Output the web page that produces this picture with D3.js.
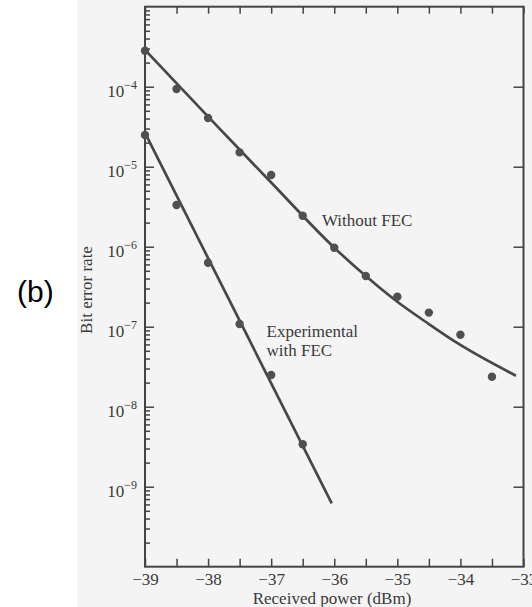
<!DOCTYPE html>
<html>
<head>
<meta charset="utf-8">
<script src="https://cdn.jsdelivr.net/npm/d3@7"></script>
<style>
  body { margin: 0; background: #ffffff; }
  svg { display: block; }
</style>
</head>
<body>
<div id="chart"></div>
<script>
// ===== data =====
// measured points, without FEC
var noFecPower = [-39, -38.5, -38, -37.5, -37, -36.5, -36, -35.5, -35, -34.5, -34, -33.5];
var noFecBer   = [2.82e-4, 9.35e-5, 4.06e-5, 1.51e-5, 7.87e-6, 2.44e-6, 9.7e-7, 4.3e-7, 2.37e-7, 1.5e-7, 7.94e-8, 2.37e-8];
// fitted curve, without FEC
var noFecFitPower = [-39, -38, -37, -36, -35.5, -35, -34.5, -34, -33.12];
var noFecFitBer   = [2.88e-4, 4.23e-5, 6.34e-6, 9.72e-7, 4.3e-7, 2.05e-7, 1.08e-7, 5.91e-8, 2.44e-8];
// measured points, experimental with FEC
var fecPower = [-39, -38.5, -38, -37.5, -37, -36.5];
var fecBer   = [2.49e-5, 3.32e-6, 6.3e-7, 1.08e-7, 2.49e-8, 3.39e-9];
// fitted line, with FEC
var fecFitPower = [-39, -36.04];
var fecFitBer   = [2.64e-5, 6.2e-10];

var xTicks = d3.range(-39, -32.9, 0.5);
var decadeExp = [-9, -8, -7, -6, -5, -4];

var ink = "#444";
var serif = "'Liberation Serif', 'Times New Roman', serif";

var svg = d3.select("#chart")
    .append("svg")
    .attr("width", 532)
    .attr("height", 607)

// scanned paper
svg.append("rect")
    .attr("x", 77).attr("y", 0)
    .attr("width", 455).attr("height", 607)
    .attr("fill", "#f4f4f4")

var x = d3.scaleLinear().domain([-39, -33]).range([145, 523.5])
var y = d3.scaleLog().domain([1e-10, 1e-3]).range([566.7, 6.7])

function pairs(px, py){
    return px.map(function(p, i){ return {p: p, b: py[i]} })
}

// ===== axes =====
var fmt = d3.format("d")

// bottom
svg.append("g")
    .attr("transform", "translate(0," + y(1e-10) + ")")
    .call(d3.axisBottom(x).tickValues(xTicks).tickSize(-8).tickPadding(6)
        .tickFormat(function(d){ return d % 1 === 0 ? fmt(d) : "" }))
    .call(function(g){ g.select(".domain").remove() })

// top
svg.append("g")
    .attr("transform", "translate(0," + y(1e-3) + ")")
    .call(d3.axisTop(x).tickValues(xTicks).tickSize(-7).tickFormat(""))
    .call(function(g){ g.select(".domain").remove() })

// left minor ticks
var minors = y.ticks().filter(function(d){
    var l = Math.log10(d)
    return Math.abs(l - Math.round(l)) > 1e-6
})
svg.append("g")
    .attr("transform", "translate(" + x(-39) + ",0)")
    .call(d3.axisLeft(y).tickValues(minors).tickSize(-5).tickFormat(""))
    .call(function(g){ g.select(".domain").remove() })

// left decades with 10^n labels
var decades = decadeExp.map(function(e){ return Math.pow(10, e) })
var leftMajor = svg.append("g")
    .attr("transform", "translate(" + x(-39) + ",0)")
    .call(d3.axisLeft(y).tickValues(decades).tickSize(-9).tickPadding(8).tickFormat(""))
    .call(function(g){ g.select(".domain").remove() })

leftMajor.selectAll(".tick text")
    .attr("dy", "0.6em")
    .each(function(d, i){
        var t = d3.select(this)
        t.append("tspan").text("10")
        t.append("tspan")
            .attr("dy", -8)
            .attr("font-size", 12)
            .text("\u2212" + Math.abs(decadeExp[i]))
    })

// right decades
svg.append("g")
    .attr("transform", "translate(" + x(-33) + ",0)")
    .call(d3.axisRight(y).tickValues(decades).tickSize(-10).tickFormat(""))
    .call(function(g){ g.select(".domain").remove() })

svg.selectAll(".tick line")
    .attr("stroke", ink)
    .attr("stroke-width", 1.5)
svg.selectAll(".tick text")
    .attr("fill", "#3a3a3a")
    .attr("font-family", serif)
    .attr("font-size", 17)

// frame
svg.append("rect")
    .attr("x", x(-39)).attr("y", y(1e-3))
    .attr("width", x(-33) - x(-39))
    .attr("height", y(1e-10) - y(1e-3))
    .attr("fill", "none")
    .attr("stroke", ink)
    .attr("stroke-width", 2)

// ===== curves =====
var fitLine = d3.line()
    .x(function(d){ return x(d.p) })
    .y(function(d){ return y(d.b) })

svg.append("path")
    .datum(pairs(noFecFitPower, noFecFitBer))
    .attr("d", fitLine.curve(d3.curveMonotoneX))
    .attr("fill", "none")
    .attr("stroke", "#474747")
    .attr("stroke-width", 2.7)

svg.append("path")
    .datum(pairs(fecFitPower, fecFitBer))
    .attr("d", fitLine.curve(d3.curveLinear))
    .attr("fill", "none")
    .attr("stroke", "#474747")
    .attr("stroke-width", 2.7)

// dots
svg.selectAll(".dotA")
    .data(pairs(noFecPower, noFecBer))
    .enter().append("circle")
    .attr("cx", function(d){ return x(d.p) })
    .attr("cy", function(d){ return y(d.b) })
    .attr("r", 4.2)
    .attr("fill", "#505050")

svg.selectAll(".dotB")
    .data(pairs(fecPower, fecBer))
    .enter().append("circle")
    .attr("cx", function(d){ return x(d.p) })
    .attr("cy", function(d){ return y(d.b) })
    .attr("r", 4.2)
    .attr("fill", "#505050")

// ===== text =====
function label(txt, px, py){
    svg.append("text")
        .text(txt)
        .attr("x", px).attr("y", py)
        .attr("font-family", serif)
        .attr("font-size", 17)
        .attr("fill", "#3a3a3a")
}
label("Without FEC", 322, 226)
label("Experimental", 266.5, 337)
label("with FEC", 266.5, 356)

svg.append("text")
    .text("Received power (dBm)")
    .attr("x", 332).attr("y", 604)
    .attr("text-anchor", "middle")
    .attr("font-family", serif)
    .attr("font-size", 17)
    .attr("fill", "#3a3a3a")

svg.append("text")
    .text("Bit error rate")
    .attr("transform", "translate(92,290) rotate(-90)")
    .attr("text-anchor", "middle")
    .attr("font-family", serif)
    .attr("font-size", 17)
    .attr("fill", "#3a3a3a")

svg.append("text")
    .text("(b)")
    .attr("x", 17).attr("y", 302)
    .attr("font-family", "'Liberation Sans', Arial, sans-serif")
    .attr("font-size", 30)
    .attr("fill", "#000")
</script>
</body>
</html>
